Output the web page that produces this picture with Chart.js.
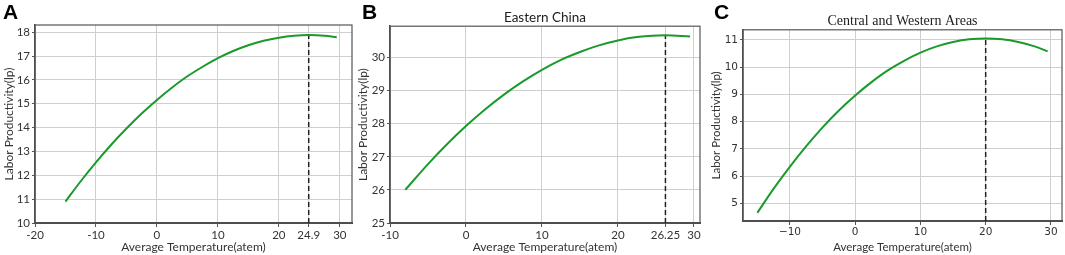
<!DOCTYPE html>
<html>
<head>
<meta charset="utf-8">
<script src="https://cdn.jsdelivr.net/npm/chart.js@4.4.1/dist/chart.umd.min.js"></script>
<style>
  body { margin: 0; background: #fff; width: 1065px; height: 255px; overflow: hidden; position: relative; }
  canvas { position: absolute; top: 0; }
  .tag { position: absolute; top: 0; z-index: 2; font: bold 21px "Liberation Sans", Arial, sans-serif; color: #000; }
</style>
</head>
<body>
<canvas id="chartA" width="356" height="255" style="left:0"></canvas>
<canvas id="chartB" width="348" height="255" style="left:356px"></canvas>
<canvas id="chartC" width="361" height="255" style="left:704px"></canvas>
<div class="tag" style="left:3px">A</div>
<div class="tag" style="left:362px">B</div>
<div class="tag" style="left:714px">C</div>
<script>
// Panel A - whole country
const tempA = [-15, -12.5, -10, -7.5, -5, -2.5, 0, 2.5, 5, 7.5, 10, 12.5, 15, 17.5, 20, 22.5, 24.9, 27.5, 29.5]
const prodA = [10.9, 11.75, 12.54, 13.28, 13.96, 14.59, 15.16, 15.68, 16.15, 16.55, 16.91, 17.21, 17.45, 17.64, 17.77, 17.85, 17.88, 17.85, 17.79]
const xTicksA = [-20, -10, 0, 10, 20, 24.9, 30]
const yTicksA = [10, 11, 12, 13, 14, 15, 16, 17, 18]
const peakA = [24.9, 17.88]

// Panel B - Eastern China
const tempB = [-8, -5, -2.5, 0, 2.5, 5, 7.5, 10, 12.5, 15, 17.5, 20, 22.5, 26.25, 29.5]
const prodB = [26.0, 26.78, 27.38, 27.93, 28.43, 28.88, 29.28, 29.63, 29.93, 30.17, 30.37, 30.52, 30.62, 30.68, 30.64]
const xTicksB = [-10, 0, 10, 20, 26.25, 30]
const yTicksB = [25, 26, 27, 28, 29, 30]
const peakB = [26.25, 30.68]

// Panel C - Central and Western Areas
const tempC = [-15, -12.5, -10, -7.5, -5, -2.5, 0, 2.5, 5, 7.5, 10, 12.5, 15, 17.5, 20, 22.5, 25, 27.5, 29.5]
const prodC = [4.65, 5.54, 6.35, 7.1, 7.79, 8.41, 8.96, 9.45, 9.88, 10.23, 10.53, 10.76, 10.92, 11.02, 11.05, 11.02, 10.92, 10.76, 10.58]
const xTicksC = [-10, 0, 10, 20, 30]
const yTicksC = [5, 6, 7, 8, 9, 10, 11]
const peakC = [20, 11.05]

const green = '#1a9a2c'
const textColor = '#333'
const gridColor = '#cfcfcf'

// box round the plot area
const framePlugin = {
  id: 'frame',
  beforeDatasetsDraw(chart) {
    const { ctx, chartArea: a } = chart
    ctx.save()
    ctx.strokeStyle = '#555'
    ctx.lineWidth = 1.2
    ctx.strokeRect(a.left, a.top, a.right - a.left, a.bottom - a.top)
    ctx.restore()
  },
}

function makePanel(id, p) {
  const curve = p.temps.map((t, i) => ({ x: t, y: p.values[i] }))
  const dropLine = [
    { x: p.peak[0], y: p.yMin },
    { x: p.peak[0], y: p.peak[1] },
  ]
  const fixTicks = (list) => (scale) => {
    scale.ticks = list.map((v) => ({ value: v }))
  }
  return new Chart(document.getElementById(id), {
    type: 'line',
    data: {
      datasets: [
        {
          data: curve,
          borderColor: green,
          borderWidth: 2,
          pointRadius: 0,
          cubicInterpolationMode: 'monotone',
        },
        {
          data: dropLine,
          borderColor: '#222',
          borderWidth: 1.5,
          borderDash: [5, 3],
          pointRadius: 0,
        },
      ],
    },
    plugins: [framePlugin],
    options: {
      responsive: false,
      animation: false,
      layout: { padding: p.padding },
      plugins: {
        legend: { display: false },
        tooltip: { enabled: false },
        title: p.title
          ? {
              display: true,
              text: p.title,
              fullSize: false,
              color: '#222',
              font: p.titleFont,
              padding: p.titlePad,
            }
          : { display: false },
      },
      scales: {
        x: {
          type: 'linear',
          min: p.xMin,
          max: p.xMax,
          afterBuildTicks: fixTicks(p.xTicks),
          afterFit: (s) => { s.height = p.xAxisH },
          grid: { color: gridColor, tickLength: 4, tickColor: '#555' },
          border: { color: '#444', width: 2 },
          ticks: {
            color: textColor,
            font: p.tickFont,
            padding: 1,
            maxRotation: 0,
            autoSkip: false,
            callback: (v) => p.minus ? String(v).replace('-', '\u2212') : String(v),
          },
          title: {
            display: true,
            text: 'Average Temperature(atem)',
            color: textColor,
            font: p.labelFont,
            padding: { top: 0, bottom: 1 },
          },
        },
        y: {
          min: p.yMin,
          max: p.yMax,
          afterBuildTicks: fixTicks(p.yTicks),
          afterFit: (s) => { s.width = p.yAxisW },
          grid: { color: gridColor, tickLength: 3, tickColor: '#555' },
          border: { color: '#444', width: 1.5 },
          ticks: { color: textColor, font: p.tickFont, padding: 2 },
          title: {
            display: true,
            text: 'Labor Productivity(lp)',
            color: textColor,
            font: p.labelFont,
            padding: { top: p.yTitlePad, bottom: 0 },
          },
        },
      },
    },
  })
}

const sansTick = { family: 'Lato, "Liberation Sans", sans-serif', size: 11.5 }
const sansLabel = { family: 'Lato, "Liberation Sans", sans-serif', size: 12 }

makePanel('chartA', {
  temps: tempA, values: prodA, xTicks: xTicksA, yTicks: yTicksA, peak: peakA,
  xMin: -20, xMax: 32, yMin: 10, yMax: 18.3,
  padding: { top: 25, right: 4, left: 0, bottom: 0 },
  xAxisH: 32, yAxisW: 35, yTitlePad: 2,
  tickFont: sansTick, labelFont: sansLabel,
})

makePanel('chartB', {
  temps: tempB, values: prodB, xTicks: xTicksB, yTicks: yTicksB, peak: peakB,
  xMin: -10, xMax: 30.8, yMin: 25, yMax: 30.95,
  padding: { top: 0, right: 4, left: 0, bottom: 0 },
  xAxisH: 32, yAxisW: 34, yTitlePad: 0,
  title: 'Eastern China',
  titleFont: { family: 'Lato, "Liberation Sans", sans-serif', size: 13.5, weight: 'normal' },
  titlePad: { top: 9.5, bottom: 0.5 },
  tickFont: sansTick, labelFont: sansLabel,
})

makePanel('chartC', {
  temps: tempC, values: prodC, xTicks: xTicksC, yTicks: yTicksC, peak: peakC,
  xMin: -17.2, xMax: 31.7, yMin: 4.35, yMax: 11.37,
  padding: { top: 0, right: 3, left: 0, bottom: 0 },
  xAxisH: 34, yAxisW: 39, yTitlePad: 5, minus: true,
  title: 'Central and Western Areas',
  titleFont: { family: '"Liberation Serif", "Times New Roman", serif', size: 14, weight: 'normal' },
  titlePad: { top: 13, bottom: 0 },
  tickFont: { family: '"DejaVu Sans", sans-serif', size: 10.5 },
  labelFont: { family: 'Lato, "Liberation Sans", sans-serif', size: 11.5 },
})
</script>
</body>
</html>
